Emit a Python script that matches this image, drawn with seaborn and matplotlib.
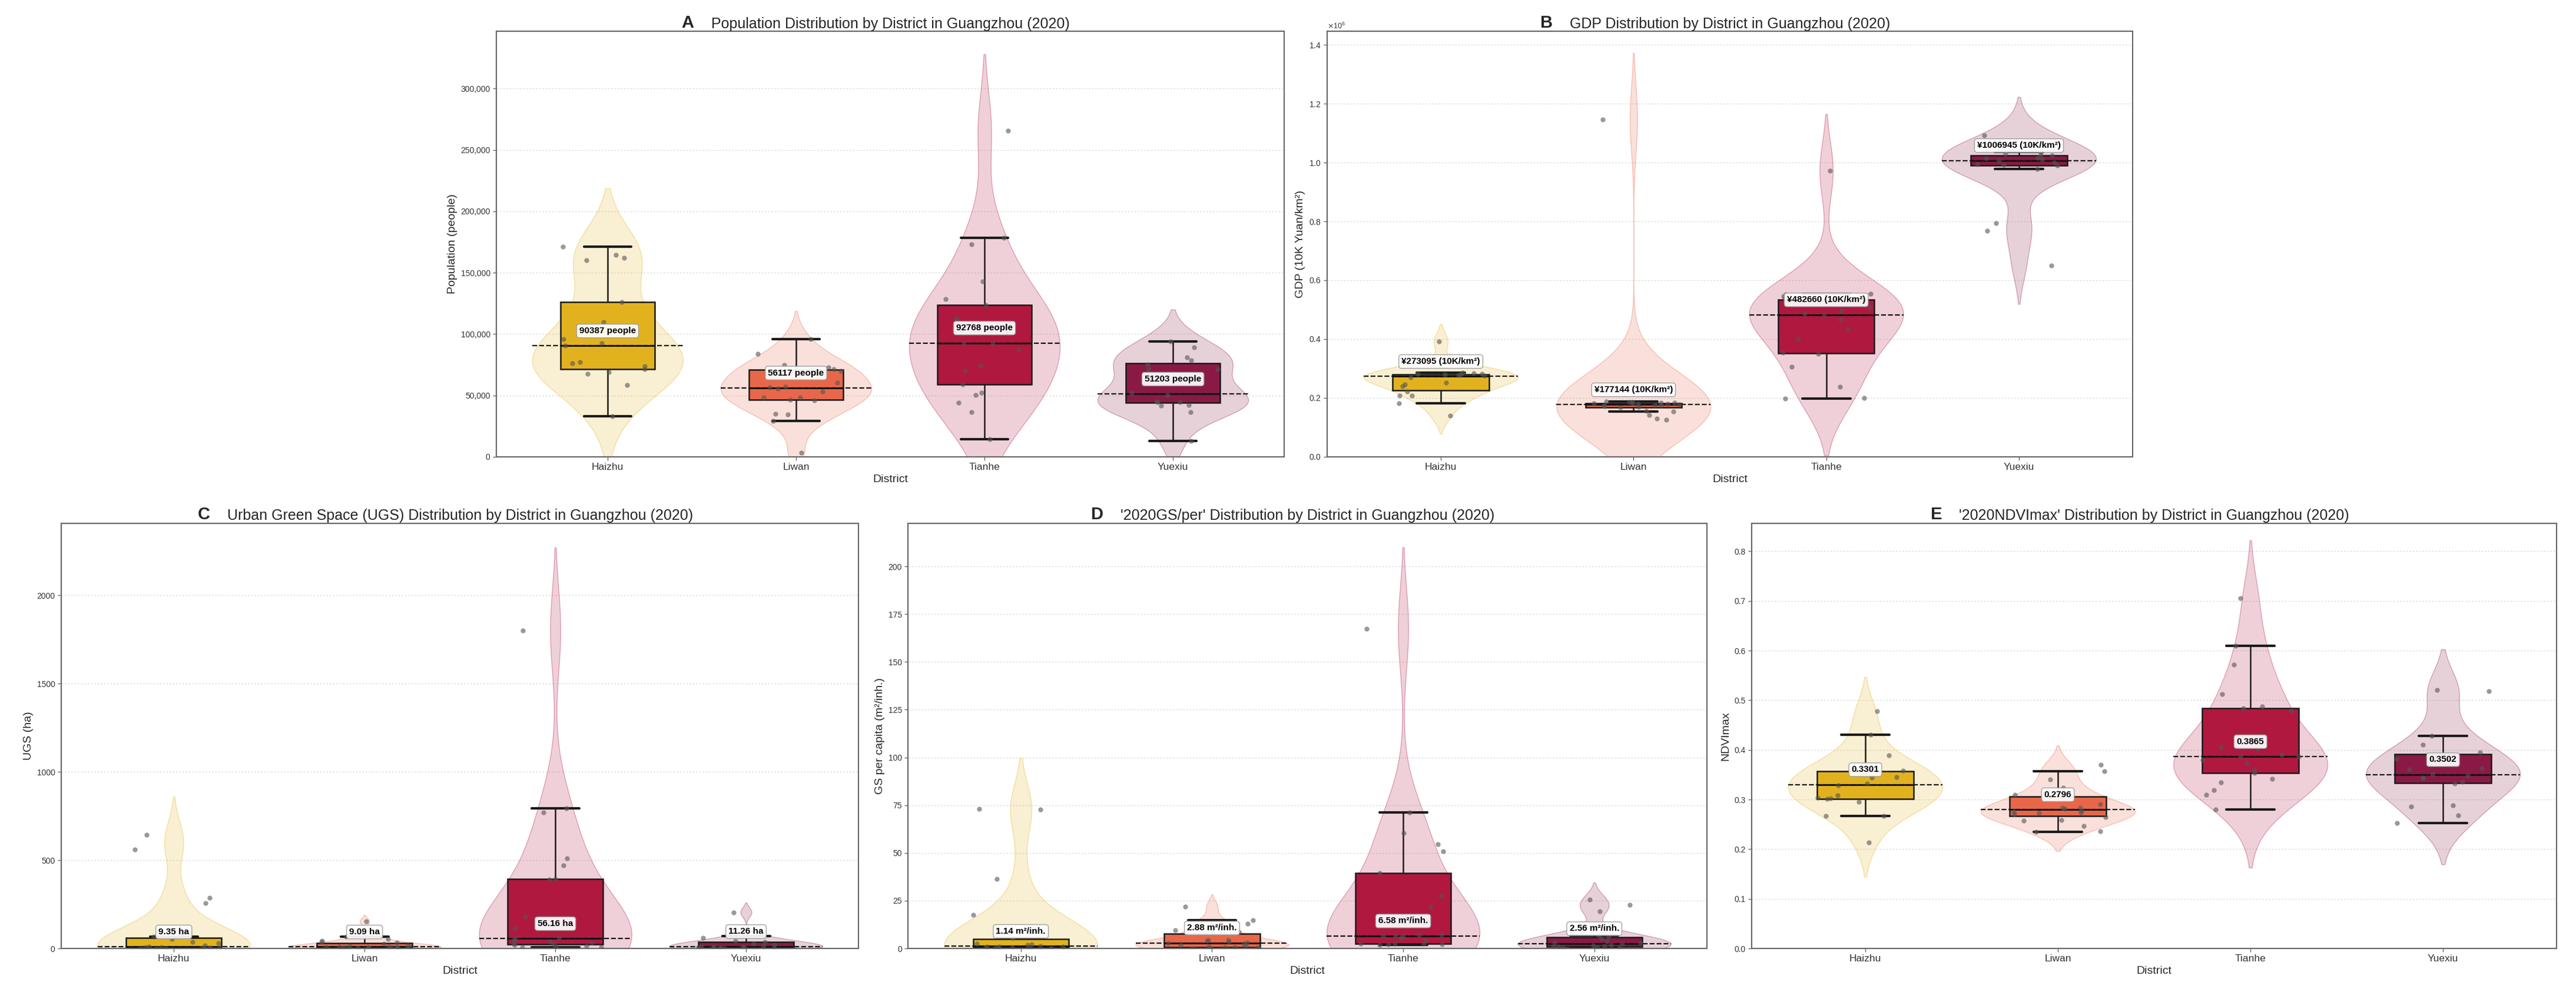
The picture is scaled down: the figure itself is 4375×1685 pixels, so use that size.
"""Violin + box plots of five indicators by district, Guangzhou 2020."""

import numpy as np
import pandas as pd
import matplotlib
matplotlib.use("Agg")
import matplotlib.pyplot as plt
from matplotlib.ticker import FuncFormatter, MultipleLocator
import seaborn as sns

districts = ["Haizhu", "Liwan", "Tianhe", "Yuexiu"]
box_colors = ["#E2B21E", "#E8674A", "#B0183F", "#8A1A45"]

# population (people)
pop_haizhu = [33200, 58500, 67800, 68900, 71500, 73600, 76000, 77200, 90387, 92500,
              96000, 110000, 126000, 160000, 162000, 164600, 171000]
pop_liwan = [3300, 29400, 34700, 35200, 46000, 46700, 48200, 48500, 53000, 55700,
             56534, 57000, 60500, 70000, 70800, 71200, 73000, 74600, 84000, 95700]
pop_tianhe = [14600, 36400, 44200, 50300, 52300, 59000, 69800, 74100, 87400, 92500,
              92768, 100800, 108000, 111300, 112600, 123900, 128400, 142700, 172900,
              178600, 265800]
pop_yuexiu = [12800, 36400, 41500, 42000, 44700, 44700, 44900, 50400, 52006, 71600,
              71600, 75500, 78500, 81200, 89200, 94200]

# GDP density (10K yuan / km2)
gdp_haizhu = [139000, 181000, 207000, 207000, 222000, 239000, 246000, 251000, 270000,
              276190, 278000, 279000, 280000, 281000, 282000, 283000, 285000, 391000]
gdp_liwan = [126000, 129000, 141000, 153000, 156000, 168000, 170000, 171000, 173000,
             175000, 176500, 177788, 179000, 180000, 181000, 182000, 183000, 184000,
             185000, 186000, 188000, 1147000]
gdp_tianhe = [197000, 200000, 237000, 305000, 350000, 354000, 400000, 434000, 466000,
              482660, 485000, 495000, 508000, 530000, 538000, 545000, 551000, 553000,
              972000]
gdp_yuexiu = [650000, 768000, 794000, 979000, 990000, 992000, 995000, 1001000, 1006945,
              1010000, 1014000, 1017000, 1024000, 1026000, 1030000, 1037000, 1092000]

# urban green space (ha)
ugs_haizhu = [0.3, 0.6, 1.0, 1.5, 2.0, 2.6, 4.5, 6.8, 7.8, 9.35, 16.8, 30.0, 35.8,
              52.6, 68.2, 257, 286, 559, 645]
ugs_liwan = [0.5, 1.0, 1.6, 2.2, 3.0, 4.2, 5.6, 6.3, 7.1, 8.0, 8.7, 9.48, 11.5, 14.0,
             18.0, 28.0, 32.0, 38.0, 45.0, 52.0, 68.0, 153.0]
ugs_tianhe = [5.5, 7.5, 8.5, 13.0, 20.0, 24.4, 28.0, 33.0, 39.0, 48.0, 56.16, 61.0,
              113.0, 180.0, 389.0, 393.0, 470.0, 510.0, 770.0, 794.0, 1801.0]
ugs_yuexiu = [0.4, 1.0, 2.0, 3.0, 4.5, 6.0, 8.0, 10.0, 10.8, 11.72, 14.0, 20.0, 28.0,
              38.0, 45.0, 59.0, 69.0, 205.0]

# green space per capita (m2 / inh.)
gs_haizhu = [0.1, 0.2, 0.3, 0.4, 0.5, 0.6, 0.8, 0.95, 1.08, 1.20, 1.9, 2.2, 2.5, 5.7,
             17.5, 36.5, 72.7, 72.9]
gs_liwan = [0.1, 0.2, 0.3, 0.4, 0.5, 0.7, 1.0, 1.5, 2.0, 2.5, 2.76, 3.0, 3.5, 4.0, 4.2,
            4.4, 8.67, 9.5, 11.0, 13.0, 14.8, 22.0]
gs_tianhe = [2.0, 2.2, 2.3, 2.4, 2.5, 2.6, 4.4, 5.6, 6.2, 6.4, 6.58, 7.0, 7.2, 22.0,
             27.3, 39.4, 50.9, 54.5, 60.3, 71.3, 167.2]
gs_yuexiu = [0.2, 0.4, 0.6, 0.8, 1.0, 1.3, 1.6, 2.0, 2.4, 2.72, 3.2, 3.6, 4.8, 6.27,
             6.8, 19.5, 22.9, 25.5]

# NDVI max
ndvi_haizhu = [0.213, 0.267, 0.267, 0.295, 0.301, 0.302, 0.304, 0.308, 0.328, 0.3322,
               0.344, 0.345, 0.356, 0.358, 0.363, 0.389, 0.430, 0.478]
ndvi_liwan = [0.235, 0.236, 0.247, 0.257, 0.258, 0.265, 0.270, 0.273, 0.274, 0.275,
              0.278, 0.2812, 0.283, 0.283, 0.290, 0.301, 0.308, 0.310, 0.324, 0.340,
              0.357, 0.370]
ndvi_tianhe = [0.280, 0.309, 0.319, 0.334, 0.342, 0.353, 0.359, 0.374, 0.379, 0.386,
               0.3865, 0.390, 0.402, 0.405, 0.479, 0.484, 0.487, 0.512, 0.572, 0.610,
               0.705]
ndvi_yuexiu = [0.252, 0.268, 0.286, 0.288, 0.332, 0.336, 0.343, 0.344, 0.349, 0.3514,
               0.361, 0.363, 0.382, 0.395, 0.410, 0.428, 0.518, 0.520]

sns.set_theme(style="white")
plt.rcParams["font.family"] = ["Liberation Sans", "DejaVu Sans"]
plt.rcParams["axes.unicode_minus"] = False

np.random.seed(3)  # only for horizontal jitter of the dots


def draw_panel(ax, groups, letter, title, ylabel, label_fmt, step, yfmt=None):
    df = pd.DataFrame({
        "District": np.repeat(districts, [len(g) for g in groups]),
        "value": np.concatenate([np.asarray(g, float) for g in groups]),
    })
    palette = dict(zip(districts, box_colors))

    sns.violinplot(data=df, x="District", y="value", hue="District", order=districts,
                   hue_order=districts, palette=palette, saturation=1,
                   density_norm="width", width=0.8, inner=None, linewidth=1.0,
                   legend=False, ax=ax)
    for coll in ax.collections:
        r, g, b, _ = coll.get_facecolor()[0]
        coll.set_facecolor((r, g, b, 0.2))
        coll.set_edgecolor((r, g, b, 0.35))

    sns.boxplot(data=df, x="District", y="value", hue="District", order=districts,
                hue_order=districts, palette=palette, saturation=1, width=0.5,
                showfliers=False, linecolor="#1a1a1a", linewidth=1.8, legend=False,
                ax=ax, capprops={"linewidth": 3.0}, medianprops={"linewidth": 2.2})

    sns.stripplot(data=df, x="District", y="value", order=districts, color="#555555",
                  alpha=0.6, size=6, jitter=0.25, zorder=3, ax=ax)

    medians = df.groupby("District")["value"].median().reindex(districts)
    xs = np.arange(len(districts))
    ax.hlines(medians.values, xs - 0.4, xs + 0.4, colors="#111111",
              linestyles="--", linewidth=1.6, zorder=2.5)

    ax.set_xlim(-0.59, 3.59)
    ax.set_ylim(bottom=0)
    ax.yaxis.set_major_locator(MultipleLocator(step))
    if yfmt is not None:
        ax.yaxis.set_major_formatter(yfmt)
    ymax = ax.get_ylim()[1]
    for i, m in enumerate(medians.values):
        ax.text(i, m + 0.035 * ymax, label_fmt(m), ha="center", va="center",
                fontsize=11, fontweight="bold", color="black", zorder=6,
                bbox=dict(boxstyle="round,pad=0.3", fc="white", ec="#999999",
                          lw=1.0, alpha=0.92))

    ax.yaxis.grid(True, linestyle=(0, (2, 2)), color="#dcdcdc", linewidth=1.0)
    ax.set_axisbelow(True)
    for s in ax.spines.values():
        s.set_visible(True)
        s.set_color("#666666")
        s.set_linewidth(1.5)
    ax.tick_params(axis="both", left=True, bottom=True, direction="out", length=4,
                   width=1, color="#666666", labelcolor="#333333")
    ax.tick_params(axis="y", labelsize=10)
    ax.tick_params(axis="x", labelsize=12.5)
    ax.set_xlabel("District", fontsize=14, labelpad=3)
    ax.set_ylabel(ylabel, fontsize=14, labelpad=4)
    ax.set_title(title, fontsize=18, pad=4)
    ax.annotate(letter, xy=(0, 0), xycoords=ax.title, xytext=(-29, 0),
                textcoords="offset pixels", ha="right", va="bottom",
                fontsize=21, fontweight="bold")


fig = plt.figure(figsize=(43.75, 16.85), dpi=100)
ax_a = fig.add_axes([0.1927, 0.5395, 0.3058, 0.4290])
ax_b = fig.add_axes([0.5152, 0.5395, 0.3127, 0.4290])
ax_c = fig.add_axes([0.0238, 0.0439, 0.3095, 0.4285])
ax_d = fig.add_axes([0.3525, 0.0439, 0.3102, 0.4285])
ax_e = fig.add_axes([0.6800, 0.0439, 0.3125, 0.4285])

draw_panel(ax_a, [pop_haizhu, pop_liwan, pop_tianhe, pop_yuexiu], "A",
           "Population Distribution by District in Guangzhou (2020)",
           "Population (people)", lambda m: f"{m:.0f} people", 50000,
           FuncFormatter(lambda v, p: f"{int(round(v)):,}"))

draw_panel(ax_b, [gdp_haizhu, gdp_liwan, gdp_tianhe, gdp_yuexiu], "B",
           "GDP Distribution by District in Guangzhou (2020)",
           "GDP (10K Yuan/km²)", lambda m: f"¥{m:.0f} (10K/km²)", 200000)
ax_b.ticklabel_format(axis="y", style="sci", scilimits=(6, 6), useMathText=True)
ax_b.yaxis.get_offset_text().set_fontsize(9)

draw_panel(ax_c, [ugs_haizhu, ugs_liwan, ugs_tianhe, ugs_yuexiu], "C",
           "Urban Green Space (UGS) Distribution by District in Guangzhou (2020)",
           "UGS (ha)", lambda m: f"{m:.2f} ha", 500)

draw_panel(ax_d, [gs_haizhu, gs_liwan, gs_tianhe, gs_yuexiu], "D",
           "'2020GS/per' Distribution by District in Guangzhou (2020)",
           "GS per capita (m²/inh.)", lambda m: f"{m:.2f} m²/inh.", 25)

draw_panel(ax_e, [ndvi_haizhu, ndvi_liwan, ndvi_tianhe, ndvi_yuexiu], "E",
           "'2020NDVImax' Distribution by District in Guangzhou (2020)",
           "NDVImax", lambda m: f"{m:.4f}", 0.1,
           FuncFormatter(lambda v, p: f"{v:.1f}"))

fig.savefig("out.png", dpi=100, facecolor="white")
plt.close(fig)
